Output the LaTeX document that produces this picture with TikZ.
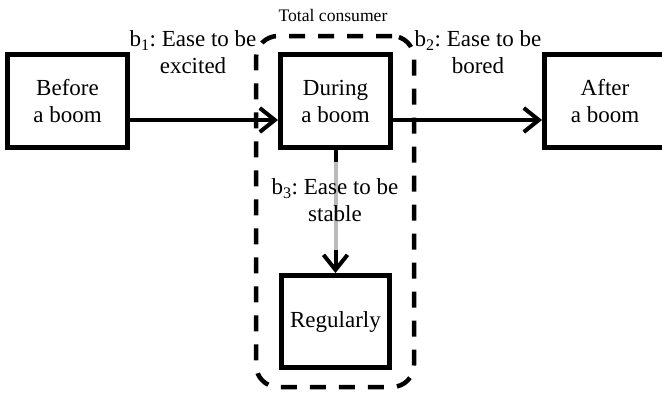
\documentclass[tikz,border=0pt]{standalone}
\usepackage{fontspec}
\setmainfont{Liberation Serif}
\usetikzlibrary{arrows.meta}
\frenchspacing
\begin{document}
\begin{tikzpicture}[x=1pt,y=-1pt,
  every node/.style={font=\fontsize{23}{27}\selectfont},
  stage/.style={draw, line width=5pt, align=center, minimum height=93pt, inner sep=0pt},
  flow/.style={line width=4pt, -{Straight Barb[length=15pt,width=24pt]}},
  shade/.style={line width=4pt, draw=black!27},
  rate/.style={align=center, inner sep=0pt},
  group/.style={draw, line width=4.5pt, dash pattern=on 16pt off 13pt, rounded corners=22pt, inner sep=0pt}]
\useasboundingbox (0,0) rectangle (662,394);
\clip (0,0) rectangle (662,394);

% consumer group outline
\node[group, minimum width=158pt, minimum height=351pt] (total) at (335,211.5) {};
\node[font=\fontsize{17.6}{21}\selectfont, anchor=base] (totallabel) at (333,21.7) {Total consumer};

% stages
\node[stage, minimum width=120pt] (before) at (67.5,101) {Before\\a boom};
\node[stage, minimum width=110pt] (during) at (335.5,101) {During\\a boom};
\node[stage, minimum width=121pt] (after) at (605,101) {After\\a boom};
\node[stage, minimum width=108pt, minimum height=92pt] (regular) at (335.5,321.5) {Regularly};

% transitions
\draw[flow] ([yshift=-19pt]before.east) -- ([yshift=-19pt]during.west);
\draw[flow] ([yshift=-19pt]during.east) -- ([yshift=-19pt]after.west);
\draw[flow] (during.south) -- (regular.north);
\draw[shade] ([yshift=-12pt]during.south) -- ([yshift=23pt]regular.north);

% transition rates
\node[rate] (b1) at (193,52.4) {b\textsubscript{1}: Ease to be\\excited};
\node[rate] (b2) at (478,52.4) {b\textsubscript{2}: Ease to be\\bored};
\node[rate] (b3) at (335,200.6) {b\textsubscript{3}: Ease to be\\stable};
\end{tikzpicture}
\end{document}
